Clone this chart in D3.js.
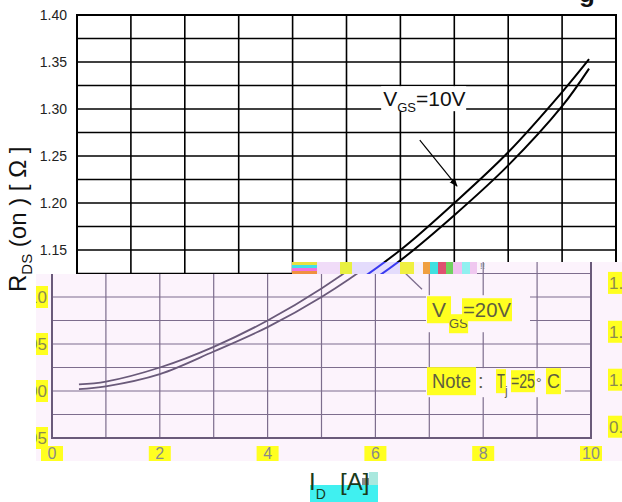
<!DOCTYPE html>
<html><head><meta charset="utf-8">
<script src="https://cdn.jsdelivr.net/npm/d3@7"></script>
<style>html,body{margin:0;padding:0;background:#fff;overflow:hidden}svg{display:block;font-family:"Liberation Sans",Arial,sans-serif}</style>
</head><body><svg id="c" width="622" height="502"></svg>
<script>
// ---- data ----
const currentA  = [0.5, 1, 2, 3, 4, 5, 6, 7, 8, 9, 9.5];
const rdsVgs10  = [1.007, 1.010, 1.025, 1.047, 1.075, 1.109, 1.150, 1.200, 1.254, 1.318, 1.353];
const rdsVgs20  = [1.002, 1.005, 1.018, 1.042, 1.068, 1.100, 1.139, 1.187, 1.240, 1.303, 1.343];
const xTickValues = [0, 2, 4, 6, 8, 10];
const yTickValues = [1.40, 1.35, 1.30, 1.25, 1.20, 1.15, 1.10, 1.05, 1.00, 0.95];
const xGridValues = d3.range(0, 11);
const yGridValues = d3.range(0, 19).map(i => +(0.95 + i * 0.025).toFixed(3));
const rightEdgeLabels = ["1.1", "1.1", "1.0", "0.9"];
const rightEdgeValues = [1.115, 1.063, 1.012, 0.962];

const svg = d3.select("#c");
const defs = svg.append("defs");
const y = d3.scaleLinear().domain([0.95, 1.40]).range([438, 15]);
const xTop = d3.scaleLinear().domain([0, 10]).range([77, 616]);
const xBot = d3.scaleLinear().domain([0, 10]).range([52, 591]);
const pts = (arr) => currentA.map((a, i) => [a, arr[i]]);

function withBox(sel, fill, pad) {
  sel.each(function () {
    const b = this.getBBox();
    d3.select(this.parentNode).insert("rect", () => this)
      .attr("x", b.x - pad[0]).attr("y", b.y - pad[1])
      .attr("width", b.width + 2 * pad[0]).attr("height", b.height + 2 * pad[1])
      .attr("fill", fill);
  });
}

// ================= TOP (original black) panel =================
const topG = svg.append("g");
topG.append("g").selectAll("line").data(yGridValues).join("line")
  .attr("x1", xTop(0)).attr("x2", xTop(10)).attr("y1", d => y(d)).attr("y2", d => y(d))
  .attr("stroke", "#000").attr("stroke-width", 1.6);
topG.append("g").selectAll("line").data(xGridValues).join("line")
  .attr("x1", d => xTop(d)).attr("x2", d => xTop(d)).attr("y1", y(1.40)).attr("y2", y(0.95))
  .attr("stroke", "#000").attr("stroke-width", 1.6);
topG.append("rect").attr("x", xTop(0)).attr("y", y(1.40))
  .attr("width", xTop(10) - xTop(0)).attr("height", y(0.95) - y(1.40))
  .attr("fill", "none").attr("stroke", "#000").attr("stroke-width", 2);

const yAxisTop = topG.append("g").attr("transform", `translate(${xTop(0)},0)`)
  .call(d3.axisLeft(y).tickValues(yTickValues).tickFormat(d3.format(".2f")).tickSize(0).tickPadding(10));
yAxisTop.select(".domain").remove();
yAxisTop.selectAll("text").attr("font-size", 14).attr("fill", "#222")
  .attr("font-family", "Liberation Sans, Arial, sans-serif");

const lineTop = d3.line().x(d => xTop(d[0])).y(d => y(d[1])).curve(d3.curveCatmullRom.alpha(0.5));
[rdsVgs10, rdsVgs20].forEach(s => topG.append("path").attr("d", lineTop(pts(s)))
  .attr("fill", "none").attr("stroke", "#000").attr("stroke-width", 2));

// VGS=10V label
const l10 = { x: xTop(5.68), y: y(1.303) };
topG.append("rect").attr("x", l10.x - 2).attr("y", l10.y - 20).attr("width", 85).attr("height", 25).attr("fill", "#fff");
const t10 = topG.append("text").attr("x", l10.x).attr("y", l10.y).attr("fill", "#111").attr("font-size", 21);
t10.append("tspan").text("V");
t10.append("tspan").attr("font-size", 13).attr("dy", 6).text("GS");
t10.append("tspan").attr("dy", -6).text("=10V");

// arrow
defs.append("marker").attr("id", "ah").attr("viewBox", "0 0 10 10").attr("refX", 9).attr("refY", 5)
  .attr("markerWidth", 7).attr("markerHeight", 7).attr("orient", "auto")
  .append("path").attr("d", "M0,1 L10,5 L0,9 Z").attr("fill", "#000");
topG.append("line").attr("x1", xTop(6.36)).attr("y1", y(1.267)).attr("x2", xTop(7.05)).attr("y2", y(1.218))
  .attr("stroke", "#000").attr("stroke-width", 1.2).attr("marker-end", "url(#ah)");

// title fragment at the very top (only its descender is inside the picture)
svg.append("text").attr("x", 579).attr("y", 2).attr("font-size", 26).attr("font-weight", "bold").attr("fill", "#111").text("g");

// Y axis title
const yt = svg.append("text").attr("transform", "translate(26,292) rotate(-90)").attr("fill", "#111").attr("font-size", 24);
yt.append("tspan").text("R");
yt.append("tspan").attr("font-size", 15).attr("dy", 6).text("DS");
yt.append("tspan").attr("dy", -6).text(" (on )  [ Ω ]");

// ================= BOTTOM (pink) panel =================
const panelPath = "M36,274 H292 V262 H622 V461 H36 Z";
defs.append("clipPath").attr("id", "pc").append("path").attr("d", panelPath);
const bot = svg.append("g").attr("clip-path", "url(#pc)");
bot.append("path").attr("d", panelPath).attr("fill", "#fcf3fc");
const gridCol = "#7d6d8d";
bot.append("g").selectAll("line").data(yGridValues).join("line")
  .attr("x1", xBot(0)).attr("x2", xBot(10)).attr("y1", d => y(d)).attr("y2", d => y(d))
  .attr("stroke", gridCol).attr("stroke-width", 1.2);
bot.append("g").selectAll("line").data(xGridValues).join("line")
  .attr("x1", d => xBot(d)).attr("x2", d => xBot(d)).attr("y1", y(1.40)).attr("y2", y(0.95))
  .attr("stroke", gridCol).attr("stroke-width", 1.2);
bot.append("path").attr("d", `M${xBot(0)},${y(1.40)} V${y(0.95)} H${xBot(10)} V${y(1.40)}`)
  .attr("fill", "none").attr("stroke", "#6a5a7a").attr("stroke-width", 2);

const lineBot = d3.line().x(d => xBot(d[0])).y(d => y(d[1])).curve(d3.curveCatmullRom.alpha(0.5));
[rdsVgs10, rdsVgs20].forEach(s => bot.append("path").attr("d", lineBot(pts(s)))
  .attr("fill", "none").attr("stroke", "#6a5a7a").attr("stroke-width", 1.8));

// y tick labels (clipped at panel edge)
const yl = bot.append("g");
yTickValues.filter(v => v <= 1.10).forEach(v => {
  yl.append("rect").attr("x", 30).attr("y", y(v) - 11).attr("width", 18).attr("height", 22).attr("fill", "#ffff20");
  yl.append("text").attr("x", 47).attr("y", y(v) + 6).attr("text-anchor", "end").attr("font-size", 17)
    .attr("fill", "#8a8a50").text(d3.format(".2f")(v));
});
// x tick labels
const xl = bot.append("g");
xTickValues.forEach(v => {
  xl.append("rect").attr("x", xBot(v) - 11).attr("y", 446).attr("width", 22).attr("height", 15).attr("fill", "#ffff20");
  xl.append("text").attr("x", xBot(v)).attr("y", 459).attr("text-anchor", "middle").attr("font-size", 16)
    .attr("fill", "#8a8a8a").text(v);
});
// right edge labels
rightEdgeLabels.forEach((t, i) => {
  xl.append("rect").attr("x", 608).attr("y", y(rightEdgeValues[i]) - 11).attr("width", 14).attr("height", 22).attr("fill", "#ffff20");
  xl.append("text").attr("x", 609).attr("y", y(rightEdgeValues[i]) + 6).attr("font-size", 17).attr("fill", "#8a8a50").text(t);
});

// VGS=20V annotation
const a20 = { x: xBot(7.05), y: y(1.0785) };
bot.append("rect").attr("x", a20.x - 6).attr("y", a20.y - 22).attr("width", 104).attr("height", 37).attr("fill", "#fcf3fc");
bot.append("line").attr("x1", a20.x - 10).attr("y1", a20.y - 28).attr("x2", a20.x - 36).attr("y2", a20.y - 53)
  .attr("stroke", "#7d6d8d").attr("stroke-width", 1.3);
const g20 = bot.append("g").attr("fill", "#5e5e40").attr("font-size", 21);
const p1 = g20.append("text").attr("x", a20.x).attr("y", a20.y).text("V");
const p2 = g20.append("text").attr("x", a20.x + 17).attr("y", a20.y + 11).attr("font-size", 13).text("GS");
const p3 = g20.append("text").attr("x", a20.x + 31).attr("y", a20.y).attr("textLength", 48).attr("lengthAdjust", "spacingAndGlyphs").text("=20V");
withBox(p1, "#ffff20", [5, 2]); withBox(p2, "#ffff20", [0, 2]); withBox(p3, "#ffff20", [1, 0]);

// Note annotation
const an = { x: xBot(7.05), y: y(1.003) };
bot.append("rect").attr("x", an.x - 6).attr("y", an.y - 20).attr("width", 139).attr("height", 29).attr("fill", "#fcf3fc");
const gn = bot.append("g").attr("fill", "#5e5e40").attr("font-size", 20);
const n1 = gn.append("text").attr("x", an.x).attr("y", an.y).attr("textLength", 39).attr("lengthAdjust", "spacingAndGlyphs").text("Note");
gn.append("text").attr("x", an.x + 46).attr("y", an.y).text(":");
const n3 = gn.append("text").attr("x", an.x + 65).attr("y", an.y).attr("textLength", 8).attr("lengthAdjust", "spacingAndGlyphs").text("T");
gn.append("text").attr("x", an.x + 73).attr("y", an.y + 7).attr("font-size", 12).text("j");
const n5 = gn.append("text").attr("x", an.x + 79).attr("y", an.y).attr("textLength", 24).attr("lengthAdjust", "spacingAndGlyphs").text("=25");
gn.append("text").attr("x", an.x + 104).attr("y", an.y).attr("font-size", 14).text("°");
const n7 = gn.append("text").attr("x", an.x + 115).attr("y", an.y).attr("textLength", 13).attr("lengthAdjust", "spacingAndGlyphs").text("C");
withBox(n1, "#ffff20", [5, 3]); withBox(n3, "#ffff20", [1, 1]); withBox(n5, "#ffff20", [0, 0]); withBox(n7, "#ffff20", [1, 2]);

// ================= glitch band =================
const band = svg.append("g");
const bandY0 = 262, bandY1 = 274;
[["#e8e040", 0], ["#40e0e8", 3], ["#f070e0", 6], ["#f09040", 9]].forEach(([c, o]) =>
  band.append("rect").attr("x", 292).attr("y", bandY0 + o).attr("width", 25).attr("height", 3).attr("fill", c));
[[317, 340, "#f0dcf8"], [340, 352, "#e8f040"], [352, 400, "#e4dcfc"], [400, 414, "#f0f040"],
 [414, 423, "#f8f0f8"], [423, 430, "#f0a040"], [430, 438, "#40e0e0"], [438, 446, "#e05070"],
 [446, 453, "#70d060"], [453, 462, "#f0c0f0"], [462, 470, "#90f0f0"], [470, 477, "#f0c8f0"]]
  .forEach(([a, b, c]) => band.append("rect").attr("x", a).attr("y", bandY0).attr("width", b - a).attr("height", bandY1 - bandY0).attr("fill", c));
defs.append("clipPath").attr("id", "bc").append("rect").attr("x", 352).attr("y", bandY0).attr("width", 48).attr("height", bandY1 - bandY0);
[rdsVgs10, rdsVgs20].forEach(s => band.append("path").attr("d", lineTop(pts(s))).attr("clip-path", "url(#bc)")
  .attr("fill", "none").attr("stroke", "#3a3af0").attr("stroke-width", 2));
band.append("text").attr("x", 480).attr("y", 269).attr("font-size", 9).attr("fill", "#777").text("!!");

// ================= X axis title =================
svg.append("rect").attr("x", 310).attr("y", 485).attr("width", 68).attr("height", 17).attr("fill", "#40f0f0");
svg.append("rect").attr("x", 362).attr("y", 478).attr("width", 7).attr("height", 7).attr("fill", "#8a8a8a");
svg.append("rect").attr("x", 369).attr("y", 472).attr("width", 9).attr("height", 13).attr("fill", "#70d8c8").attr("opacity", 0.6);
const xt = svg.append("text").attr("x", 309).attr("y", 490).attr("fill", "#1a3a1a").attr("font-size", 24);
xt.append("tspan").text("I");
xt.append("tspan").attr("font-size", 14).attr("dy", 9).text("D");
xt.append("tspan").attr("dy", -9).attr("x", 340).text("[A]");
</script></body></html>
